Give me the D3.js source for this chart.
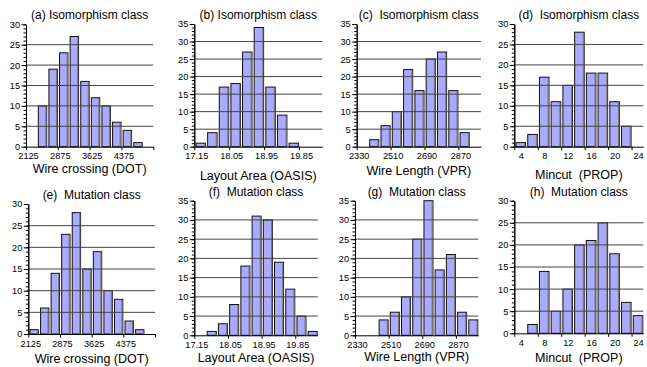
<!DOCTYPE html>
<meta charset="utf-8">
<head>
    <title>Histograms</title>
    <script src="https://cdn.jsdelivr.net/npm/d3@7"></script>
</head>

<style>
    body { margin: 0; background: #fff; }
    text { font-family: "Liberation Sans", Arial, sans-serif; fill: #000; white-space: pre; }
    .bar { fill: #aaaaff; stroke: #111; stroke-width: 1; }
    .shade { stroke: #7a7a7a; stroke-width: 1.2; }
    .grid { stroke: #444; stroke-width: 1; }
    .axis path, .axis line { stroke: #000; stroke-width: 1; }
    .axis text { font-size: 9.2px; }
</style>

<svg width="647" height="367"></svg>

<script>
    // titles and axis names
    var titles = ['(a) Isomorphism class', '(b) Isomorphism class', '(c)  Isomorphism class', '(d)  Isomorphism class',
                  '(e)  Mutation class', '(f)  Mutation class', '(g)  Mutation class', '(h)  Mutation class'];
    var xTitles = ['Wire crossing (DOT)', 'Layout Area (OASIS)', 'Wire Length (VPR)', 'Mincut  (PROP)'];

    // bin counts
    var wireCrossIso = [0, 10, 19, 23, 27, 16, 12, 10, 6, 4, 1, 0];
    var layoutIso    = [1, 4, 17, 18, 27, 34, 17, 9, 1, 0, 0];
    var wireLenIso   = [0, 2, 6, 10, 22, 16, 25, 27, 16, 4, 0];
    var mincutIso    = [1, 3, 17, 11, 15, 28, 18, 18, 11, 5, 0];
    var wireCrossMut = [1, 6, 14, 23, 28, 15, 19, 10, 8, 3, 1, 0];
    var layoutMut    = [0, 1, 3, 8, 18, 31, 30, 19, 12, 5, 1];
    var wireLenMut   = [0, 0, 4, 6, 10, 25, 35, 17, 21, 6, 4];
    var mincutMut    = [0, 2, 14, 5, 10, 20, 21, 25, 18, 7, 4];

    // bins: first edge and width, per metric
    var binStart = [2125, 17.15, 2330, 3];
    var binWidth = [250, 0.3, 60, 2];

    // x ticks (at bin edges) and their labels
    var xTickVals = [[2125, 2875, 3625, 4375, 5125], [17.15, 18.05, 18.95, 19.85], [2330, 2510, 2690, 2870], [3, 7, 11, 15, 19, 23]];
    var xTickLabels = [['2125', '2875', '3625', '4375', ''], ['17.15', '18.05', '18.95', '19.85'], ['2330', '2510', '2690', '2870'], ['4', '8', '12', '16', '20', '24']];
    var yMaxes = [30, 35, 35, 30, 30, 35, 35, 30];

    var counts = [wireCrossIso, layoutIso, wireLenIso, mincutIso, wireCrossMut, layoutMut, wireLenMut, mincutMut];

    // plot boxes: left, right, top, bottom ; axis title baseline
    var boxes = [[26, 153.3, 24.3, 146.7], [194.3, 322.3, 24, 146.7], [356.7, 481, 24, 146.7], [514.3, 643.3, 24, 146.7],
                 [28.3, 155, 204, 334], [194.3, 317.7, 200.7, 335.3], [355, 478.3, 200.7, 335.3], [514.3, 643.3, 200.7, 333.3]];
    var xTitleY = [172.5, 180.3, 175, 179.3, 362.7, 361.7, 361.3, 361.7];

    var svg = d3.select('svg');

    counts.forEach(function (vals, p) {
        var m = p % 4;
        var b = boxes[p];
        var x0 = binStart[m], w = binWidth[m];
        var x = d3.scaleLinear().domain([x0, x0 + w * vals.length]).range([b[0], b[1]]);
        var y = d3.scaleLinear().domain([0, yMaxes[p]]).range([b[3], b[2]]);
        var g = svg.append('g');
        var pw = x(x0 + w) - x(x0);

        // bars
        var bars = g.selectAll('g.b').data(vals.map(function (v, i) { return {i: i, v: v}; })
            .filter(function (d) { return d.v > 0; })).enter().append('g').attr('class', 'b');
        bars.append('rect').attr('class', 'bar')
            .attr('x', function (d) { return x(x0 + d.i * w) + 1.7; })
            .attr('y', function (d) { return y(d.v); })
            .attr('width', pw - 2.2)
            .attr('height', function (d) { return y(0) - y(d.v); });
        bars.append('line').attr('class', 'shade')
            .attr('x1', function (d) { return x(x0 + (d.i + 1) * w) - 1.3; })
            .attr('x2', function (d) { return x(x0 + (d.i + 1) * w) - 1.3; })
            .attr('y1', function (d) { return y(d.v) + 1; })
            .attr('y2', y(0));

        // grid lines over the bars
        g.selectAll('line.grid').data(d3.range(5, yMaxes[p], 5)).enter().append('line')
            .attr('class', 'grid')
            .attr('x1', b[0]).attr('x2', b[1])
            .attr('y1', function (d) { return y(d); }).attr('y2', function (d) { return y(d); });

        // y axis: minor then major
        g.append('g').attr('class', 'axis').attr('transform', 'translate(' + b[0] + ',0)')
            .call(d3.axisLeft(y).tickValues(d3.range(0, yMaxes[p] + 1, 1)).tickSize(2.5).tickSizeOuter(0).tickFormat(''));
        g.append('g').attr('class', 'axis').attr('transform', 'translate(' + b[0] + ',0)')
            .call(d3.axisLeft(y).tickValues(d3.range(0, yMaxes[p] + 1, 5)).tickSize(4.5).tickSizeOuter(0).tickPadding(1.5));

        // x axis
        var dx = m === 3 ? pw / 2 + 0.7 : 2;
        var xa = g.append('g').attr('class', 'axis').attr('transform', 'translate(0,' + b[3] + ')')
            .call(d3.axisBottom(x).tickValues(xTickVals[m]).tickSize(3.5).tickSizeOuter(0)
                .tickFormat(function (d, i) { return xTickLabels[m][i]; }));
        xa.selectAll('text').attr('dx', dx).attr('y', 6.2);

        // titles
        var cx = (b[0] + b[1]) / 2;
        g.append('text').attr('x', cx).attr('y', b[2] - 5).attr('text-anchor', 'middle')
            .style('font-size', '12px').text(titles[p]);
        g.append('text').attr('x', cx).attr('y', xTitleY[p]).attr('text-anchor', 'middle')
            .style('font-size', '12.5px').text(xTitles[m]);
    });
</script>
